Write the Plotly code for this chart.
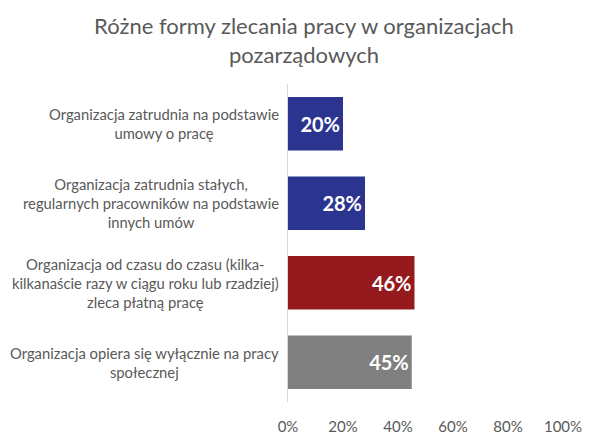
import plotly.graph_objects as go

categories = [
    "Organizacja zatrudnia na podstawie<br>umowy o pracę",
    "Organizacja zatrudnia stałych,<br>regularnych pracowników na podstawie<br>innych umów",
    "Organizacja od czasu do czasu (kilka-<br>kilkanaście razy w ciągu roku lub rzadziej)<br>zleca płatną pracę",
    "Organizacja opiera się wyłącznie na pracy<br>społecznej",
]
values = [20, 28, 46, 45]
bar_colors = ["#2B3590", "#2B3590", "#951A1D", "#808080"]
tick_vals = [0, 20, 40, 60, 80, 100]
tick_text = ["0%", "20%", "40%", "60%", "80%", "100%"]

fig = go.Figure(go.Bar(
    x=values,
    y=categories,
    orientation="h",
    marker=dict(color=bar_colors, line=dict(width=0)),
    text=[f"{v}%" for v in values],
    textposition="inside",
    insidetextanchor="end",
    textfont=dict(family="Lato", size=20, color="white", weight="bold"),
    hoverinfo="skip",
))

# category labels: centered lines, right-aligned block
for cat in categories:
    fig.add_annotation(
        x=0, xref="paper", xshift=-7, y=cat, yref="y",
        text=cat, showarrow=False, xanchor="right", align="center",
        font=dict(family="Lato", size=14.8, color="#595959"),
    )

# page body has an 8px default margin, so the figure is 8px smaller
fig.update_layout(
    width=592, height=439,
    margin=dict(l=280, r=37, t=76, b=43),
    paper_bgcolor="white", plot_bgcolor="white",
    title=dict(
        text="Różne formy zlecania pracy w organizacjach<br>pozarządowych",
        x=0.5, xanchor="center", y=0.94, yanchor="middle",
        font=dict(family="Lato", size=22, color="#595959"),
    ),
    bargap=0.33,
    showlegend=False,
    xaxis=dict(
        range=[0, 100], tickvals=tick_vals, ticktext=tick_text,
        showgrid=False, zeroline=False, showline=False,
        tickfont=dict(family="Lato", size=15, color="#595959"),
        ticks="", ticklen=0, ticklabelstandoff=14,
    ),
    yaxis=dict(
        autorange="reversed", showticklabels=False,
        showline=True, linecolor="#D9D9D9", linewidth=1,
        showgrid=False, ticks="",
    ),
)

fig.write_html("out.html")
